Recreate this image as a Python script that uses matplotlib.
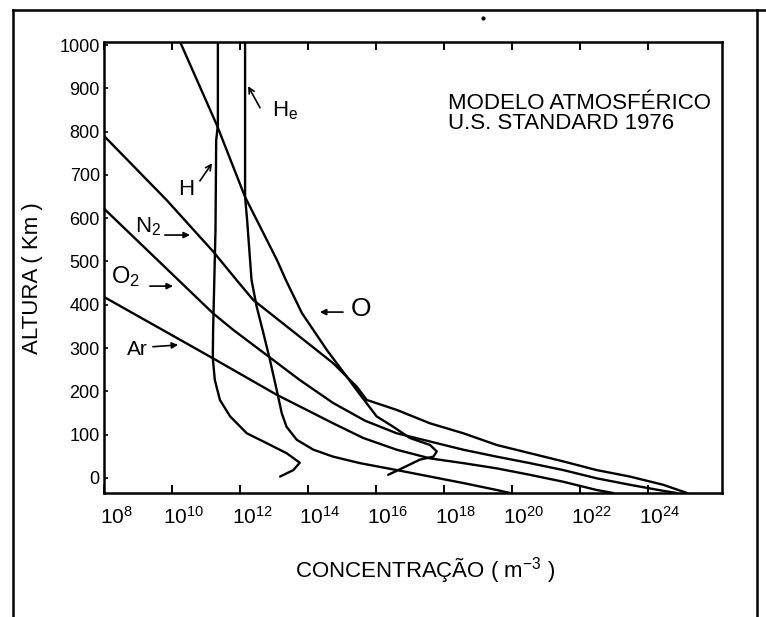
import numpy as np
import matplotlib
matplotlib.use('Agg')
import matplotlib.pyplot as plt
import matplotlib.transforms as mtransforms
from matplotlib.lines import Line2D
from matplotlib.ticker import NullLocator

plt.rcParams['font.family'] = ['Liberation Sans', 'DejaVu Sans']
plt.rcParams['mathtext.default'] = 'regular'

# log10 of the concentration (m^-3) and altitude (km)
h_log = [11.35, 11.35, 11.30, 11.28, 11.21, 11.20, 11.26, 11.41, 11.71, 12.20, 12.79, 13.37, 13.76, 13.57, 13.18]
h_km = [1007, 815, 780, 573, 342, 277, 226, 180, 142, 103, 80, 57, 35, 18, 3]

he_log = [12.15, 12.15, 12.21, 12.34, 12.49, 12.69, 12.88, 13.08, 13.23, 13.37, 13.67, 14.16, 14.74,
          15.53, 16.61, 17.59, 18.57, 19.55, 19.94]
he_km = [1007, 649, 596, 457, 396, 334, 273, 203, 149, 118, 88, 65, 49, 34, 18, 3, -12, -28, -35]

o_log = [10.24, 11.32, 12.15, 13.09, 13.35, 13.82, 14.55, 15.14, 15.43, 15.73, 16.02, 16.51,
         17.00, 17.59, 17.79, 17.69, 17.29, 16.79, 16.36]
o_km = [1007, 815, 649, 503, 457, 381, 296, 234, 203, 172, 142, 118, 92, 76, 61, 49, 42, 23, 7]

n2_log = [8.00, 9.84, 11.21, 11.90, 12.39, 13.76, 14.74, 15.43, 15.73, 16.61, 17.59, 18.57, 19.55,
          20.53, 21.51, 22.49, 23.47, 24.45, 25.15]
n2_km = [790, 642, 523, 457, 411, 326, 265, 211, 180, 157, 126, 103, 76, 57, 38, 18, 3, -16, -35]

o2_log = [8.00, 11.21, 11.80, 12.78, 13.76, 14.74, 15.68, 16.61, 17.59, 18.57, 19.55, 20.53, 21.51,
          22.49, 23.47, 24.45, 24.85]
o2_km = [622, 380, 342, 284, 226, 173, 132, 103, 84, 65, 49, 34, 18, -1, -16, -30, -35]

ar_log = [8.00, 11.21, 13.08, 13.76, 14.74, 15.63, 16.61, 17.59, 18.57, 19.55, 20.53, 21.51, 22.49, 22.98]
ar_km = [418, 276, 192, 165, 126, 92, 65, 45, 34, 22, 7, -9, -28, -35]

x_exp = [8, 10, 12, 14, 16, 18, 20, 22, 24]
y_ticks = [0, 100, 200, 300, 400, 500, 600, 700, 800, 900, 1000]

fig = plt.figure(figsize=(7.66, 6.17), dpi=100)
ax = fig.add_axes([104 / 766, 124 / 617, 618 / 766, 451 / 617])

for lg, km in [(h_log, h_km), (he_log, he_km), (o_log, o_km),
               (n2_log, n2_km), (o2_log, o2_km), (ar_log, ar_km)]:
    ax.plot(10.0 ** np.array(lg), km, color='black', lw=1.7,
            solid_joinstyle='round', solid_capstyle='round')

ax.set_xscale('log')
ax.set_xlim(1e8, 10 ** 26.18)
ax.set_ylim(-35, 1007)
ax.set_xticks([10.0 ** e for e in x_exp])
ax.set_xticklabels(['$10^{%d}$' % e for e in x_exp])
ax.xaxis.set_minor_locator(NullLocator())
ax.set_yticks(y_ticks)
ax.set_yticklabels([str(v) for v in y_ticks])

ax.tick_params(axis='x', which='major', direction='in', length=6, width=1.4,
               top=True, pad=9, labelsize=15)
ax.tick_params(axis='y', direction='in', length=3, width=1.2, pad=3, labelsize=13)
for sp in ax.spines.values():
    sp.set_linewidth(1.8)

# labels in the scan sit a little right of their ticks
shift = mtransforms.ScaledTranslation(12 / 100, 0, fig.dpi_scale_trans)
for lab in ax.get_xticklabels():
    lab.set_transform(lab.get_transform() + shift)

ax.set_xlabel('CONCENTRAÇÃO ( m$^{-3}$ )', fontsize=16, va='center')
ax.xaxis.set_label_coords(0.519, -0.171)
ax.set_ylabel('ALTURA ( Km )', fontsize=16, va='center')
ax.yaxis.set_label_coords(-0.115, 0.477)

# species labels and arrows
arrow_open = dict(arrowstyle='->', lw=1.2, color='black', shrinkA=0, shrinkB=0)
arrow_fill = dict(arrowstyle='-|>', lw=1.2, color='black', mutation_scale=9, shrinkA=0, shrinkB=0)

ax.text(10 ** 12.94, 848, 'H$_e$', fontsize=16, ha='left', va='center')
ax.annotate('', xy=(10 ** 12.24, 905), xytext=(10 ** 12.59, 855), arrowprops=arrow_open)
ax.text(10 ** 10.43, 667, 'H', fontsize=16, ha='center', va='center')
ax.annotate('', xy=(10 ** 11.18, 727), xytext=(10 ** 10.82, 686), arrowprops=arrow_open)
ax.text(10 ** 9.31, 580, 'N$_2$', fontsize=16, ha='center', va='center')
ax.annotate('', xy=(10 ** 10.53, 561), xytext=(10 ** 9.79, 561), arrowprops=arrow_fill)
ax.text(10 ** 8.63, 466, 'O$_2$', fontsize=17, ha='center', va='center')
ax.annotate('', xy=(10 ** 10.03, 443), xytext=(10 ** 9.35, 443), arrowprops=arrow_fill)
ax.text(10 ** 8.99, 296, 'Ar', fontsize=15, ha='center', va='center')
ax.annotate('', xy=(10 ** 10.18, 307), xytext=(10 ** 9.44, 303), arrowprops=arrow_fill)
ax.text(10 ** 15.56, 390, 'O', fontsize=19, ha='center', va='center')
ax.annotate('', xy=(10 ** 14.35, 383), xytext=(10 ** 15.03, 383), arrowprops=arrow_fill)

ax.text(10 ** 18.12, 864, 'MODELO ATMOSFÉRICO', fontsize=16, ha='left', va='center')
ax.text(10 ** 18.12, 818, 'U.S. STANDARD 1976', fontsize=16, ha='left', va='center')

# page frame of the scan
fig.add_artist(Line2D([13 / 766, 13 / 766], [0, 1 - 10 / 617], transform=fig.transFigure,
                      color='black', lw=1.8))
fig.add_artist(Line2D([13 / 766, 1], [1 - 10 / 617, 1 - 10 / 617], transform=fig.transFigure,
                      color='black', lw=1.8))
fig.add_artist(Line2D([757 / 766, 757 / 766], [0, 1 - 10 / 617], transform=fig.transFigure,
                      color='black', lw=1.8))
fig.add_artist(Line2D([483 / 766], [1 - 18 / 617], transform=fig.transFigure,
                      marker='o', ms=2, color='black', lw=0))

fig.savefig('out.png', dpi=100)
